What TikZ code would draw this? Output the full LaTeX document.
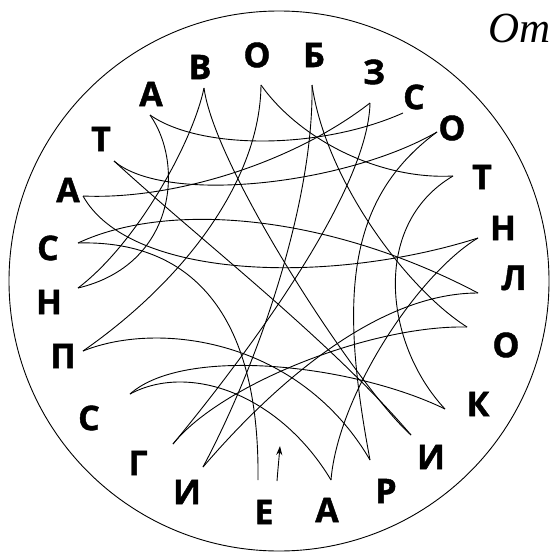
\documentclass[tikz,border=0pt]{standalone}
\usepackage{fontspec}
\setmainfont{Liberation Serif}
\newfontfamily\lettfont{Open Sans}[BoldFeatures={FakeBold=1.3}]
\usetikzlibrary{arrows.meta}
\begin{document}
\begin{tikzpicture}[x=1pt,y=-1pt,
  lbl/.style={font=\lettfont\bfseries\fontsize{34}{34}\selectfont, inner sep=0pt},
  crv/.style={line width=0.9pt, line join=round}]
\useasboundingbox (0,0) rectangle (553,551);
\draw[crv] (279,281) circle [radius=270pt];
% tips
\coordinate (pAtl) at (150,115);
\coordinate (pV) at (204,88);
\coordinate (pOt) at (261,85);
\coordinate (pB) at (312,85);
\coordinate (pZ) at (370,103);
\coordinate (pCtr) at (403,113);
\coordinate (pOtr) at (437,132);
\coordinate (pTr) at (453,176);
\coordinate (pNr) at (478,238);
\coordinate (pL) at (478,293);
\coordinate (pOr) at (467,327);
\coordinate (pK) at (445,409);
\coordinate (pIbr) at (411,435);
\coordinate (pR) at (370,460);
\coordinate (pAb) at (331,480);
\coordinate (pE) at (258,480);
\coordinate (pIbl) at (203,467);
\coordinate (pG) at (173,444);
\coordinate (pCbl) at (130,394);
\coordinate (pP) at (83,351);
\coordinate (pNl) at (78,288);
\coordinate (pCl) at (78,243);
\coordinate (pAl) at (83,196);
\coordinate (pTl) at (114,161);
% chain
\draw[crv] (pE) .. controls (260,300) and (180,240) .. (pCl);
\draw[crv] (pCl) .. controls (170,200) and (330,215) .. (pL);
\draw[crv] (pL) .. controls (378,293) and (275,383) .. (pIbl);
\draw[crv] (pIbl) .. controls (260,360) and (314,200) .. (pB);
\draw[crv] (pB) .. controls (326,181) and (407,289) .. (pOr);
\draw[crv] (pOr) .. controls (370,325) and (220,385) .. (pG);
\draw[crv] (pG) .. controls (253,347) and (368,190) .. (pZ);
\draw[crv] (pZ) .. controls (290,165) and (170,200) .. (pAl);
\draw[crv] (pAl) .. controls (130,280) and (330,285) .. (pNr);
\draw[crv] (pNr) .. controls (418,274) and (338,395) .. (pAb);
\draw[crv] (pAb) .. controls (280,395) and (190,362) .. (pCbl);
\draw[crv] (pCbl) .. controls (185,345) and (355,365) .. (pK);
\draw[crv] (pK) .. controls (385,345) and (370,225) .. (pTr);
\draw[crv] (pTr) .. controls (380,180) and (300,140) .. (pOt);
\draw[crv] (pOt) .. controls (260,180) and (185,280) .. (pP);
\draw[crv] (pP) .. controls (160,320) and (300,340) .. (pR);
\draw[crv] (pR) .. controls (340,300) and (345,200) .. (pOtr);
\draw[crv] (pOtr) .. controls (345,185) and (165,205) .. (pTl);
\draw[crv] (pTl) .. controls (200,240) and (330,340) .. (pIbr);
\draw[crv] (pIbr) .. controls (360,390) and (215,170) .. (pV);
\draw[crv] (pV) .. controls (192,145) and (135,245) .. (pNl);
\draw[crv] (pNl) .. controls (175,265) and (185,165) .. (pAtl);
\draw[crv] (pAtl) .. controls (200,150) and (320,150) .. (pCtr);
% start arrow
\coordinate (arrS) at (277,481);
\coordinate (arrE) at (280,446);
\draw[crv, -{Stealth[length=9pt,width=6pt]}] (arrS) .. controls (278,468) and (279,458) .. (arrE);
% labels
\node[lbl] (lAtl) at (151,94) {А};
\node[lbl] (lV) at (200,67) {В};
\node[lbl] (lOt) at (257,55) {О};
\node[lbl] (lB) at (314,55) {Б};
\node[lbl] (lZ) at (374,72) {З};
\node[lbl] (lCtr) at (414,97) {С};
\node[lbl] (lOtr) at (452,128) {О};
\node[lbl] (lTr) at (482,177) {Т};
\node[lbl] (lNr) at (503,228) {Н};
\node[lbl] (lL) at (514,278) {Л};
\node[lbl] (lOr) at (506,345) {О};
\node[lbl] (lK) at (478,404) {К};
\node[lbl] (lIbr) at (431,457) {И};
\node[lbl] (lR) at (386,491) {Р};
\node[lbl] (lAb) at (327,510) {А};
\node[lbl] (lE) at (264,512) {Е};
\node[lbl] (lIbl) at (187,492) {И};
\node[lbl] (lG) at (138,463) {Г};
\node[lbl] (lCbl) at (89,418) {С};
\node[lbl] (lP) at (63,356) {П};
\node[lbl] (lNl) at (49,302) {Н};
\node[lbl] (lCl) at (48,248) {С};
\node[lbl] (lAl) at (68,190) {А};
\node[lbl] (lTl) at (101,139) {Т};
% heading
\node[font=\itshape\fontsize{43}{43}\selectfont, anchor=base west, inner sep=0pt] (title) at (488,43) {От};
\end{tikzpicture}
\end{document}
